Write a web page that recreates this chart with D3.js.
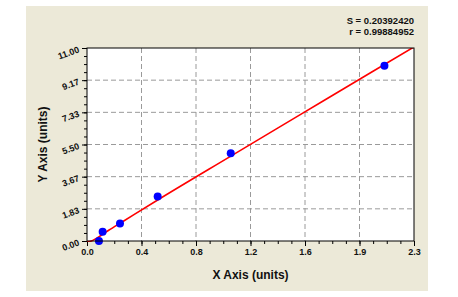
<!DOCTYPE html>
<html>
<head>
<meta charset="utf-8">
<script src="https://cdn.jsdelivr.net/npm/d3@7"></script>
<style>
  html, body { margin: 0; padding: 0; background: #fff; }
  svg { display: block; font-family: "Liberation Sans", Arial, sans-serif; }
</style>
</head>
<body>
<div id="visDiv"></div>
<script>
// data
var pointX = [0.084, 0.11, 0.232, 0.497, 1.011, 2.092];
var pointY = [0.0, 0.53, 1.0, 2.53, 5.0, 9.99];

// fitted curve
var fitX = [0, 0.03, 0.06, 0.1, 0.15, 0.25, 0.5, 1.0, 1.5, 2.0, 2.35];
var fitY = [-0.04, 0.0, 0.12, 0.33, 0.6, 1.1, 2.35, 4.78, 7.2, 9.62, 11.3];

var xTickLabels = ["0.0", "0.4", "0.8", "1.2", "1.6", "1.9", "2.3"];
var yTickLabels = ["0.00", "1.83", "3.67", "5.50", "7.33", "9.17", "11.00"];
var statLines = ["S = 0.20392420", "r = 0.99884952"];

var xMax = 2.3, yMax = 11.0;

(function () {
	var W = 458, H = 297,
		margin = {top: 48, right: 44, bottom: 56, left: 87},
		w = W - margin.left - margin.right,
		h = H - margin.top - margin.bottom;

	var svg = d3.select('#visDiv')
		.append('svg')
			.attr('width', W)
			.attr('height', H);

	// beige panel
	svg.append('rect')
		.attr('x', 26).attr('y', 6)
		.attr('width', 402).attr('height', 285)
		.attr('fill', '#ECE9D8');

	var all = svg.append('g')
		.attr("transform", "translate(" + margin.left + "," + margin.top + ")");

	var x = d3.scaleLinear().domain([0, xMax]).range([0, w]);
	var y = d3.scaleLinear().domain([0, yMax]).range([h, 0]);

	var nDiv = xTickLabels.length - 1;
	var xMajor = d3.range(nDiv + 1).map(function (i) { return i * xMax / nDiv; });
	var yMajor = d3.range(nDiv + 1).map(function (i) { return i * yMax / nDiv; });
	var xMinor = d3.range(nDiv * 4 + 1).map(function (i) { return i * xMax / (nDiv * 4); });
	var yMinor = d3.range(nDiv * 4 + 1).map(function (i) { return i * yMax / (nDiv * 4); });

	all.append('rect')
		.attr('width', w).attr('height', h)
		.attr('fill', '#fff');

	// grid
	all.append('g').selectAll('line')
		.data(xMajor.slice(1, -1))
		.join('line')
			.attr('x1', function (d) { return x(d); })
			.attr('x2', function (d) { return x(d); })
			.attr('y1', 0).attr('y2', h)
			.attr('stroke', '#9a9a9a')
			.attr('stroke-dasharray', '5,3');

	all.append('g').selectAll('line')
		.data(yMajor.slice(1, -1))
		.join('line')
			.attr('y1', function (d) { return y(d); })
			.attr('y2', function (d) { return y(d); })
			.attr('x1', 0).attr('x2', w)
			.attr('stroke', '#9a9a9a')
			.attr('stroke-dasharray', '5,3');

	// axes
	var xAxis = all.append("g")
		.attr("transform", "translate(0," + h + ")")
		.call(d3.axisBottom(x).tickValues(xMinor).tickSize(3).tickFormat(''));
	xAxis.select('.domain').remove();
	all.append("g")
		.attr("transform", "translate(0," + h + ")")
		.call(d3.axisBottom(x).tickValues(xMajor).tickSize(5)
			.tickFormat(function (d, i) { return xTickLabels[i]; }))
		.call(function (g) {
			g.select('.domain').remove();
			g.selectAll('text')
				.attr('y', 8)
				.attr('font-size', 9)
				.attr('font-weight', 'bold')
				.attr('fill', '#111');
		});

	all.append("g")
		.call(d3.axisLeft(y).tickValues(yMinor).tickSize(3).tickFormat(''))
		.select('.domain').remove();
	all.append("g")
		.call(d3.axisLeft(y).tickValues(yMajor).tickSize(5).tickFormat(''))
		.select('.domain').remove();

	all.append('g').selectAll('text')
		.data(yMajor)
		.join('text')
			.attr('transform', function (d) { return 'translate(-7,' + (y(d) + 4) + ') rotate(-20)'; })
			.attr('text-anchor', 'end')
			.attr('font-size', 9)
			.attr('font-weight', 'bold')
			.attr('fill', '#111')
			.text(function (d, i) { return yTickLabels[i]; });

	all.selectAll('.tick line').attr('stroke', '#000');

	// fit line
	all.append('clipPath').attr('id', 'clip')
		.append('rect').attr('width', w).attr('height', h + 1);

	var line = d3.line()
		.x(function (d) { return x(d[0]); })
		.y(function (d) { return y(d[1]); })
		.curve(d3.curveMonotoneX);

	all.append('path')
		.datum(d3.zip(fitX, fitY))
		.attr('clip-path', 'url(#clip)')
		.attr('fill', 'none')
		.attr('stroke', '#ff0000')
		.attr('stroke-width', 1.6)
		.attr('d', line);

	// points
	all.append('g').selectAll('circle')
		.data(d3.zip(pointX, pointY))
		.join('circle')
			.attr('cx', function (d) { return x(d[0]); })
			.attr('cy', function (d) { return y(d[1]); })
			.attr('r', 4)
			.attr('fill', '#0000ff');

	// frame
	all.append('rect')
		.attr('width', w).attr('height', h)
		.attr('fill', 'none')
		.attr('stroke', '#000');

	// titles
	svg.append('text')
		.attr('x', margin.left + w / 2).attr('y', 279)
		.attr('text-anchor', 'middle')
		.attr('font-size', 12).attr('font-weight', 'bold')
		.attr('fill', '#111')
		.text('X Axis (units)');

	svg.append('text')
		.attr('transform', 'translate(47,' + (margin.top + h / 2) + ') rotate(-90)')
		.attr('text-anchor', 'middle')
		.attr('font-size', 12).attr('font-weight', 'bold')
		.attr('fill', '#111')
		.text('Y Axis (units)');

	svg.append('g').selectAll('text')
		.data(statLines)
		.join('text')
			.attr('x', 414)
			.attr('y', function (d, i) { return 24 + i * 11; })
			.attr('text-anchor', 'end')
			.attr('font-size', 9.5).attr('font-weight', 'bold')
			.attr('fill', '#111')
			.text(function (d) { return d; });
}());
</script>
</body>
</html>
